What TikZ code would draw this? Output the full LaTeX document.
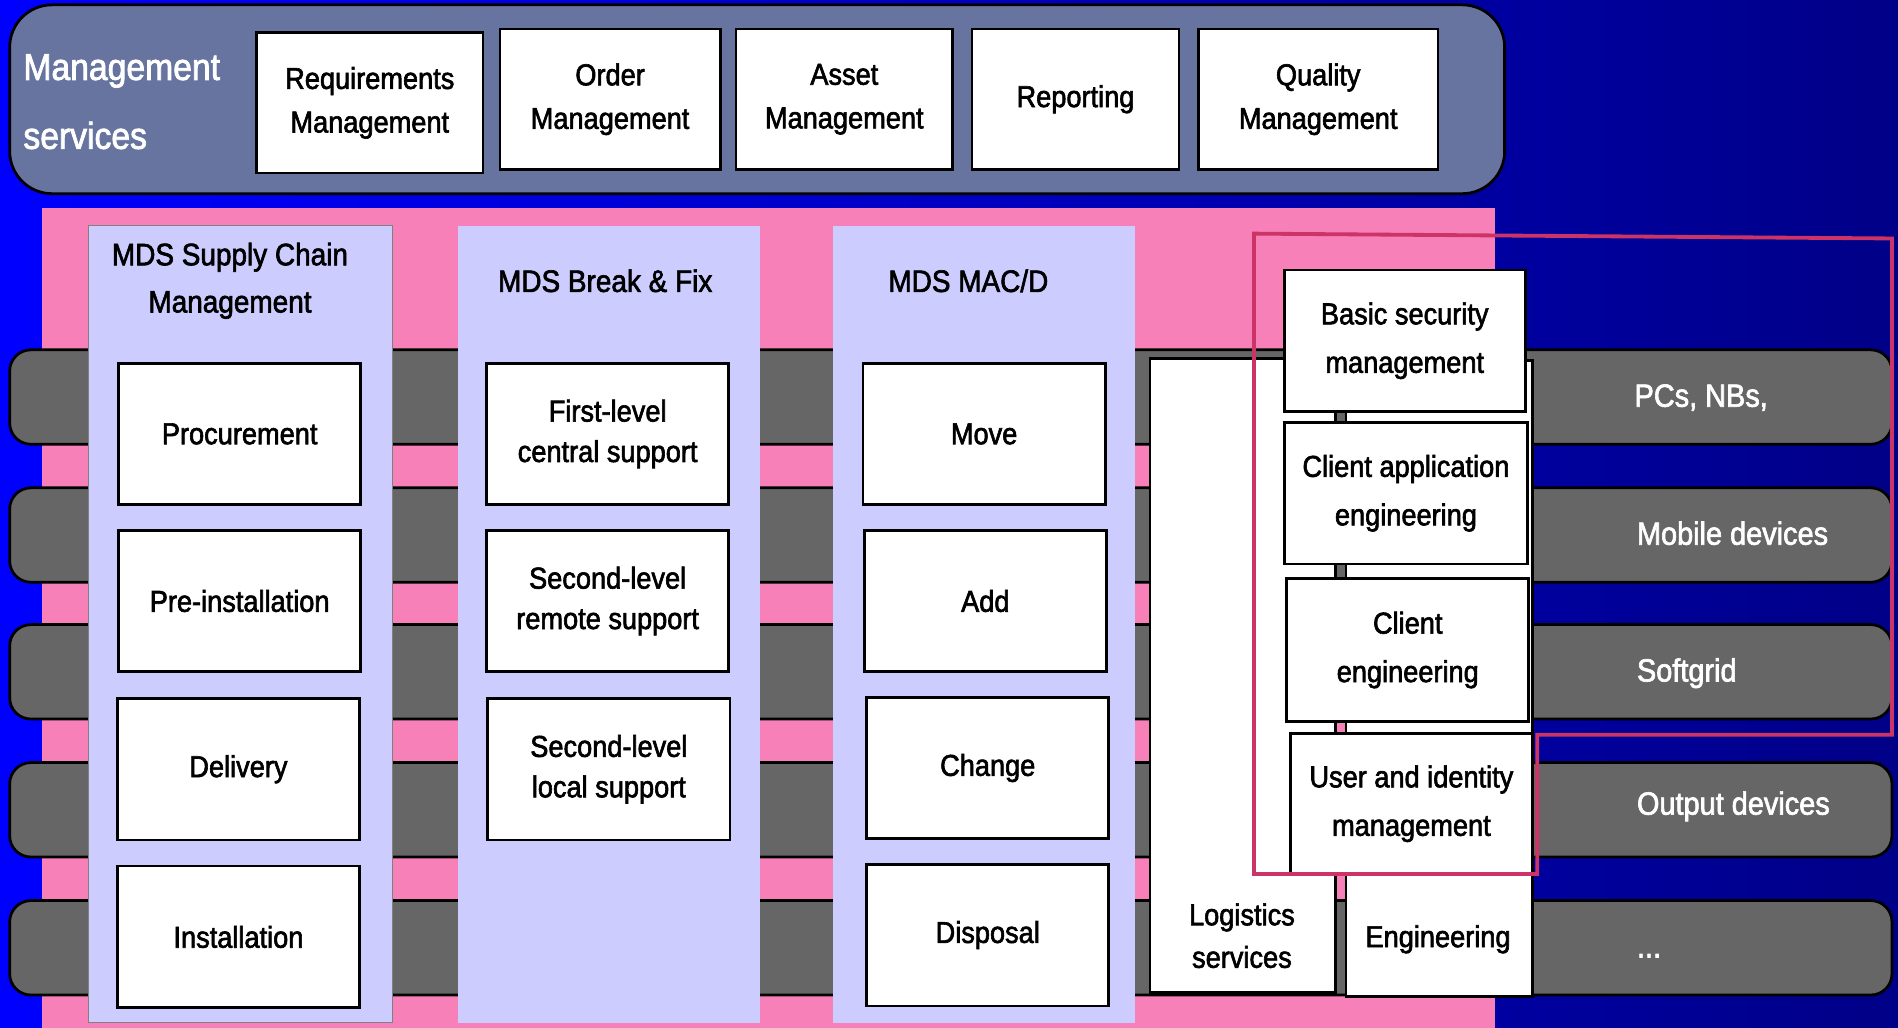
\documentclass[tikz,border=0pt]{standalone}
\usepackage{fontspec}
\setmainfont{Liberation Sans}[FakeStretch=0.9, FakeBold=2]
\usetikzlibrary{positioning}

\definecolor{bgleft}{RGB}{0,0,255}
\definecolor{bgright}{RGB}{0,0,135}
\definecolor{barblue}{RGB}{104,116,160}
\definecolor{rowgray}{RGB}{102,102,102}
\definecolor{mdspink}{RGB}{248,128,185}
\definecolor{mdslavender}{RGB}{204,204,255}
\definecolor{framered}{RGB}{204,51,102}

\tikzset{
    box/.style={draw, fill=white, line width=1.3pt, align=center, inner sep=0pt, minimum width=4cm, minimum height=2.34cm, font=\fontsize{14.2}{19}\selectfont},
    topbox/.style={box, minimum height=2.32cm, font=\fontsize{14.2}{20.5}\selectfont},
    stackbox/.style={box, font=\fontsize{14.2}{22.8}\selectfont},
    boxtext/.style={align=center, inner sep=0pt, font=\fontsize{14.2}{20}\selectfont},
    coltitle/.style={align=center, inner sep=0pt, font=\fontsize{14.6}{22.2}\selectfont},
    grayrow/.style={draw, fill=rowgray, line width=1.3pt, rounded corners=0.35cm},
    rowlabel/.style={anchor=base west, text=white, inner sep=0pt, font=\fontsize{15.1}{18}\selectfont}
}

\begin{document}
\begin{tikzpicture}[x=0.02cm, y=-0.02cm]
    \useasboundingbox (0,0) rectangle (1568,849);
    \shade[left color=bgleft, right color=bgright] (0,0) rectangle (1568,849);
    \draw[fill=barblue, line width=1.3pt, rounded corners=0.7cm] (8,4) rectangle (1243,160);
    \node[anchor=west, align=left, text=white, inner sep=0pt, font=\fontsize{17.6}{32.4}\selectfont] (Management Services) at (19,84) {Management\\services};
    \node[topbox, minimum width=3.74cm] (Requirements) at (305.5,85) {Requirements\\Management};
    \node[topbox, minimum width=3.64cm] (Order) at (504,82) {Order\\Management};
    \node[topbox, minimum width=3.58cm] (Asset) at (697.5,82) {Asset\\Management};
    \node[topbox, minimum width=3.42cm] (Reporting) at (888.5,82) {Reporting};
    \node[topbox, minimum width=3.96cm] (Quality) at (1089,82) {Quality\\Management};
    \fill[mdspink] (35,172) rectangle (1235,849);
    \draw[grayrow] (8,289) rectangle (1563,367);
    \draw[grayrow] (8,403) rectangle (1563,481);
    \draw[grayrow] (8,516) rectangle (1563,594);
    \draw[grayrow] (8,630) rectangle (1563,708);
    \draw[grayrow] (8,744) rectangle (1563,822);
    \draw[fill=mdslavender, draw=gray, line width=0.5pt] (73,186) rectangle (324,845);
    \fill[mdslavender] (378,187) rectangle (628,845);
    \fill[mdslavender] (688,187) rectangle (938,845);
    \node[coltitle] (Supply Chain) at (190,232) {MDS Supply Chain\\Management};
    \node[coltitle] (Break and Fix) at (500,232) {MDS Break \& Fix};
    \node[coltitle] (MACD) at (800,232) {MDS MAC/D};
    \node[box] (Procurement) at (198,358.5) {Procurement};
    \node[box] (Pre-installation) at (198,496.5) {Pre-installation};
    \node[box] (Delivery) at (197,635.5) {Delivery};
    \node[box] (Installation) at (197,774) {Installation};
    \node[box] (First Level) at (502,358.5) {First-level\\central support};
    \node[box] (Second Level Remote) at (502,496.5) {Second-level\\remote support};
    \node[box] (Second Level Local) at (503,635.5) {Second-level\\local support};
    \node[box] (Move) at (813,358.5) {Move};
    \node[box] (Add) at (814,496.5) {Add};
    \node[box] (Change) at (816,634.5) {Change};
    \node[box] (Disposal) at (816,772.5) {Disposal};
    \node[box, minimum width=3.06cm, minimum height=10.48cm] (Logistics) at (1026.5,558) {};
    \node[boxtext] (Logistics Text) at (1026,773) {Logistics\\services};
    \node[box, minimum width=3.08cm, minimum height=10.5cm] (Engineering) at (1189,560.5) {};
    \node[boxtext] (Engineering Text) at (1188,776) {Engineering};
    \node[stackbox, minimum width=3.98cm] (Basic Security) at (1160.5,281.5) {Basic security\\management};
    \node[stackbox, minimum width=4.02cm] (Client Application) at (1161.5,407.5) {Client application\\engineering};
    \node[stackbox, minimum height=2.36cm] (Client Engineering) at (1163,537) {Client\\engineering};
    \node[stackbox, minimum height=2.32cm] (User Identity) at (1166,664) {User and identity\\management};
    \draw[framered, line width=1.8pt] (1036,193) -- (1563,197) -- (1563,607) -- (1270,607) -- (1270,722) -- (1036,722) -- cycle;
    \node[rowlabel] (PCs) at (1350,336) {PCs, NBs,};
    \node[rowlabel] (Mobile) at (1352,450) {Mobile devices};
    \node[rowlabel] (Softgrid) at (1352,563) {Softgrid};
    \node[rowlabel] (Output) at (1352,673) {Output devices};
    \node[rowlabel] (More) at (1352,791) {...};
\end{tikzpicture}
\end{document}
